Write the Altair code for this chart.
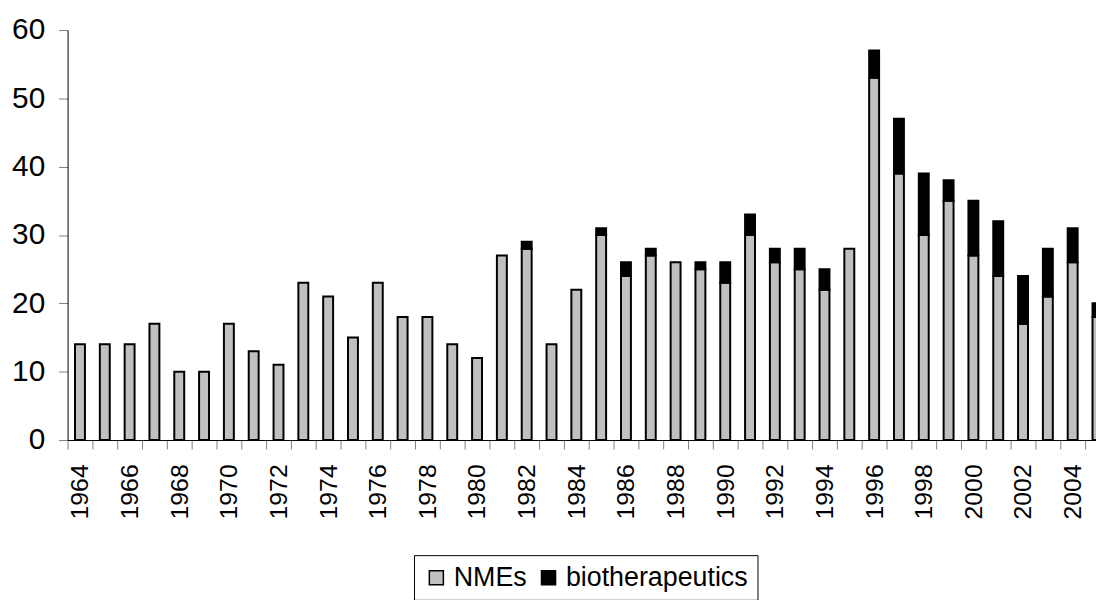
import altair as alt
import pandas as pd

years = list(range(1964, 2006))
nmes = [14, 14, 14, 17, 10, 10, 17, 13, 11, 23, 21, 15, 23, 18, 18, 14, 12, 27, 28, 14,
        22, 30, 24, 27, 26, 25, 23, 30, 26, 25, 22, 28, 53, 39, 30, 35, 27, 24, 17, 21,
        26, 18]
bio = [0, 0, 0, 0, 0, 0, 0, 0, 0, 0, 0, 0, 0, 0, 0, 0, 0, 0, 1, 0,
       0, 1, 2, 1, 0, 1, 3, 3, 2, 3, 3, 0, 4, 8, 9, 3, 8, 8, 7, 7,
       5, 2]
series = ["NMEs", "biotherapeutics"]
colors = ["#C0C0C0", "#000000"]

rows = []
for y, n, b in zip(years, nmes, bio):
    rows.append({"year": y, "series": series[0], "value": n, "ord": 0})
    if b > 0:
        rows.append({"year": y, "series": series[1], "value": b, "ord": 1})
df = pd.DataFrame(rows)

FONT = "Liberation Sans"

chart = alt.Chart(df).mark_bar(size=10, stroke="black", strokeWidth=2).encode(
    x=alt.X("year:O", sort=years,
            scale=alt.Scale(domain=years, range=[0, 1050], paddingInner=0, paddingOuter=0),
            axis=alt.Axis(title=None, labelAngle=270, tickBand="extent",
                          labelExpr="datum.value % 2 == 0 ? datum.label : ''",
                          labelOverlap=False, labelBound=False,
                          tickSize=9, tickColor="#808080", domainColor="black",
                          labelPadding=15, labelFontSize=25, labelFont=FONT,
                          labelColor="black")),
    y=alt.Y("value:Q", stack="zero",
            scale=alt.Scale(domain=[0, 60], nice=False),
            axis=alt.Axis(title=None, values=[0, 10, 20, 30, 40, 50, 60], grid=False,
                          tickSize=9, tickColor="#808080", domainColor="black",
                          labelPadding=14, labelFontSize=30, labelFont=FONT,
                          labelColor="black")),
    color=alt.Color("series:N", scale=alt.Scale(domain=series, range=colors),
                    legend=alt.Legend(title=None, orient="none", legendX=349, legendY=529,
                                      direction="horizontal", symbolType="square",
                                      symbolSize=200, symbolStrokeColor="black",
                                      symbolStrokeWidth=1.5, labelFontSize=27,
                                      labelFont=FONT, labelColor="black", labelLimit=0,
                                      strokeColor="black", fillColor="white",
                                      padding=9, columnPadding=8, labelOffset=4)),
    order=alt.Order("ord:Q"),
).properties(
    width=1036, height=413,
    autosize=alt.AutoSizeParams(type="none"),
    padding={"left": 60, "top": 20, "right": 0, "bottom": 159},
).configure_view(stroke=None)

chart.save("out.html", embed_options={"renderer": "svg", "actions": False})
